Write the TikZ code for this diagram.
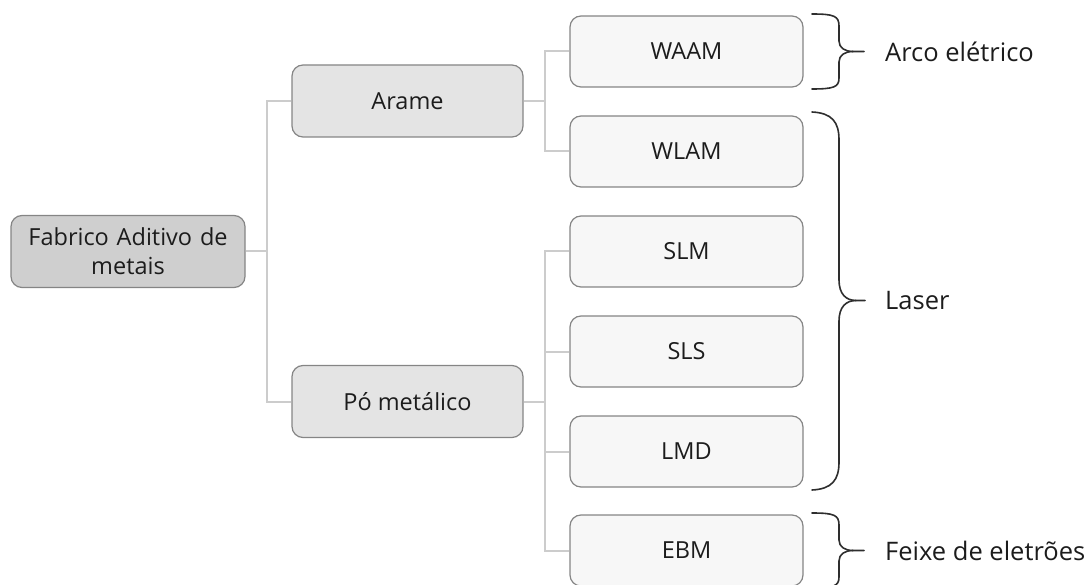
\documentclass[tikz,border=0pt]{standalone}
\usepackage{fontspec}
\setmainfont{Open Sans}
\definecolor{rootfill}{HTML}{CFCFCF}
\definecolor{midfill}{HTML}{E4E4E4}
\definecolor{leaffill}{HTML}{F7F7F7}
\definecolor{boxline}{HTML}{858585}
\definecolor{linkline}{HTML}{CCCCCC}
\definecolor{bracecol}{HTML}{2E2E2E}
\definecolor{txt}{HTML}{1C1C1C}
\tikzset{
  box/.style={draw=boxline, line width=1.2pt, rounded corners=11pt, align=center,
    inner sep=0pt, text=txt, font=\fontsize{23.5}{29}\selectfont},
  rootbox/.style={box, fill=rootfill, minimum width=234pt, minimum height=72pt, text width=230pt},
  midbox/.style={box, fill=midfill, minimum width=231pt, minimum height=72pt},
  leafbox/.style={box, fill=leaffill, minimum width=233pt, minimum height=71pt},
  link/.style={draw=linkline, line width=2pt},
  bracepath/.style={draw=bracecol, line width=1.6pt, line cap=round, line join=round},
  grouplabel/.style={anchor=west, inner sep=0pt, text=txt, font=\fontsize{25.5}{30}\selectfont},
}
\begin{document}
\begin{tikzpicture}[x=1pt, y=-1pt]
\useasboundingbox (0,0) rectangle (1087,585);

% tree nodes
\node[rootbox] (root) at (128,251.5) {Fabrico Aditivo de\\metais};
\node[midbox] (arame) at (407.5,101) {Arame};
\node[midbox] (po) at (407.5,401.5) {Pó metálico};
\node[leafbox] (waam) at (686.5,51.5) {WAAM};
\node[leafbox] (wlam) at (686.5,151.5) {WLAM};
\node[leafbox] (slm) at (686.5,251.5) {SLM};
\node[leafbox] (sls) at (686.5,351.5) {SLS};
\node[leafbox] (lmd) at (686.5,451.5) {LMD};
\node[leafbox] (ebm) at (686.5,550.5) {EBM};

% junction points of the elbow connectors
\coordinate (j1) at (267,251.5);
\coordinate (j2) at (545,101);
\coordinate (j3) at (545,401.5);

\draw[link] (root.east) -- (j1);
\draw[link] (arame.west) -| (j1);
\draw[link] (po.west) -| (j1);
\draw[link] (arame.east) -- (j2);
\draw[link] (waam.west) -| (j2);
\draw[link] (wlam.west) -| (j2);
\draw[link] (po.east) -- (j3);
\draw[link] (slm.west) -| (j3);
\draw[link] (sls.west) -| (j3);
\draw[link] (lmd.west) -| (j3);
\draw[link] (ebm.west) -| (j3);

% group labels
\node[grouplabel] (arco) at (885,51.5) {Arco elétrico};
\node[grouplabel] (laser) at (885,300.5) {Laser};
\node[grouplabel] (feixe) at (885,550.5) {Feixe de eletrões};

% curly braces: top, tip, bottom
\draw[bracepath] (812,14) .. controls (834,14) and (839,16) .. (839,26)
  -- (839,41) .. controls (839,48) and (845,51.5) .. (853,51.5) -- (864,51.5);
\draw[bracepath] (853,51.5) .. controls (845,51.5) and (839,55) .. (839,62)
  -- (839,78) .. controls (839,87) and (834,89) .. (812,89);

\draw[bracepath] (812,112) .. controls (832,113) and (839,122) .. (839,140)
  -- (839,280) .. controls (839,294) and (846,300.5) .. (856,300.5) -- (865,300.5);
\draw[bracepath] (856,300.5) .. controls (846,300.5) and (839,307) .. (839,321)
  -- (839,462) .. controls (839,480) and (832,489) .. (812,490);

\draw[bracepath] (812,513) .. controls (834,513) and (839,515) .. (839,525)
  -- (839,540) .. controls (839,547) and (845,550.5) .. (853,550.5) -- (864,550.5);
\draw[bracepath] (853,550.5) .. controls (845,550.5) and (839,554) .. (839,561)
  -- (839,577) .. controls (839,586) and (834,588) .. (812,588);
\end{tikzpicture}
\end{document}
